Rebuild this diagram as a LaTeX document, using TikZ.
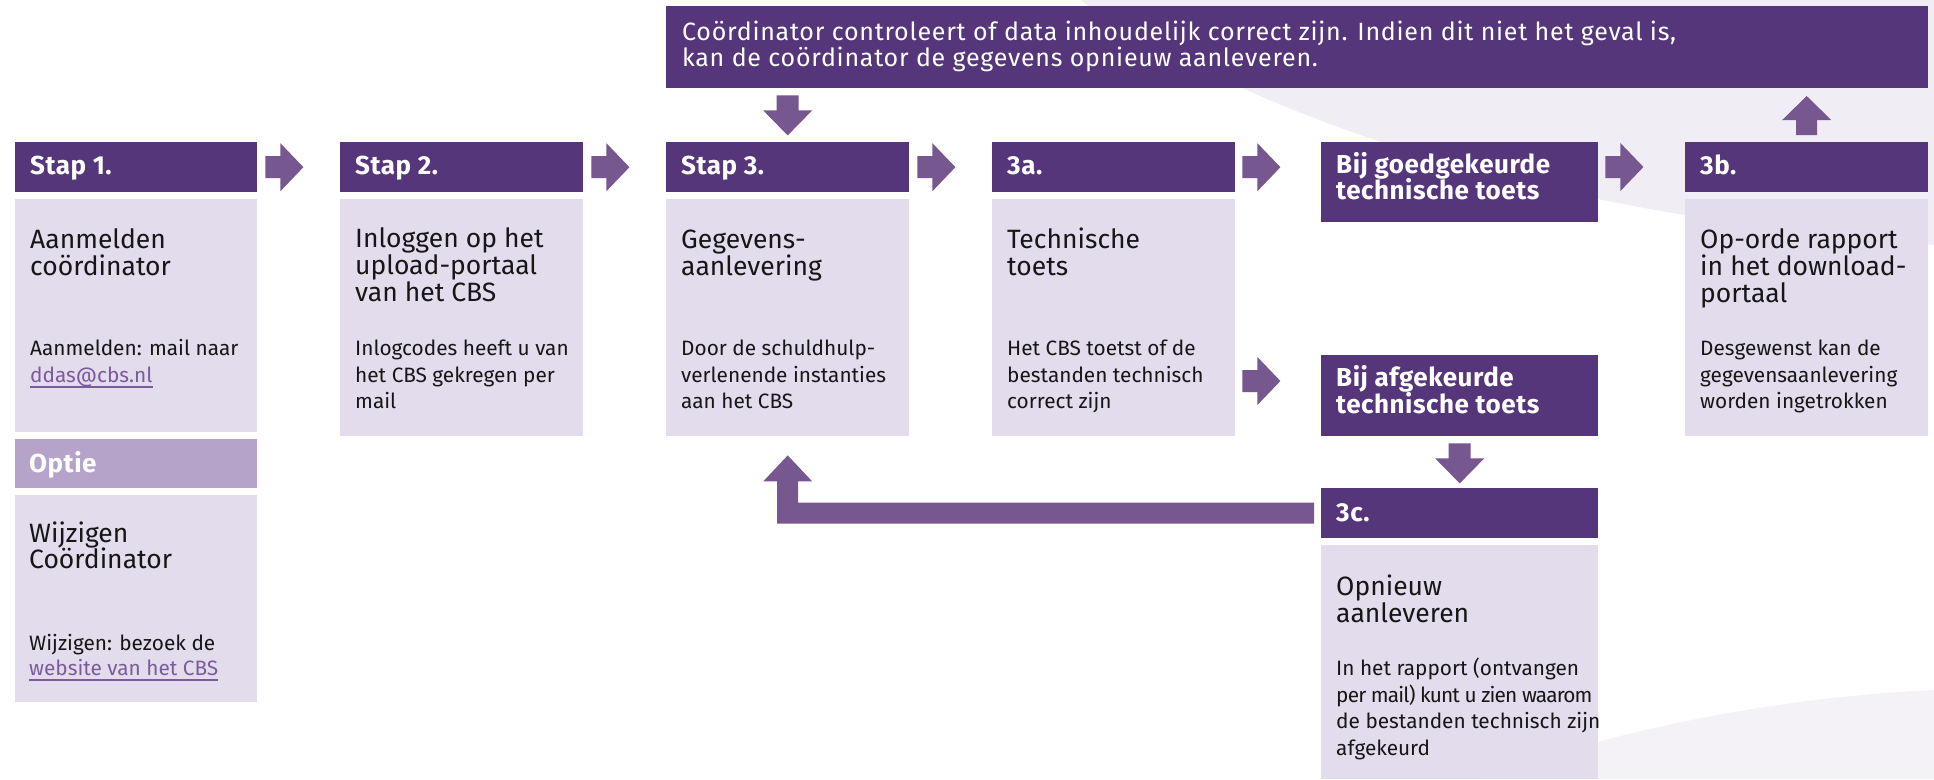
\documentclass[tikz,border=0pt]{standalone}
\usepackage{fontspec}
\setmainfont{Fira Sans}
\newfontfamily\hdrfont[LetterSpace=2]{Fira Sans}
\newfontfamily\bnrfont[LetterSpace=3]{Fira Sans}
\newfontfamily\tightfont[LetterSpace=-4]{Fira Sans}
\usetikzlibrary{calc}
\definecolor{hdr}{HTML}{56367A}
\definecolor{arrcol}{HTML}{76578F}
\definecolor{bod}{HTML}{E3DCEC}
\definecolor{optcol}{HTML}{B5A3C9}
\definecolor{lnk}{HTML}{7B5B9B}
\definecolor{swA}{HTML}{F0EDF4}
\definecolor{swB}{HTML}{F4F2F7}
\definecolor{txtcol}{HTML}{161616}
\tikzset{
  plainbox/.style={draw=none, inner sep=0pt, anchor=north west},
  hdrbox/.style={plainbox, fill=hdr},
  optbox/.style={plainbox, fill=optcol},
  bodybox/.style={plainbox, fill=bod},
  htxt/.style={anchor=base west, inner sep=0pt, text=white, font=\hdrfont\fontsize{26}{30}\selectfont\bfseries},
  ttl/.style={anchor=base west, inner sep=0pt, text=txtcol, font=\fontsize{26.5}{27}\selectfont},
  sml/.style={anchor=base west, inner sep=0pt, text=txtcol, font=\fontsize{20.8}{26}\selectfont},
  smltight/.style={sml, font=\tightfont\fontsize{20.8}{26}\selectfont},
  lnktxt/.style={anchor=base west, inner sep=0pt, text=lnk, font=\fontsize{20.8}{26}\selectfont},
  bnr/.style={anchor=base west, inner sep=0pt, text=white, font=\bnrfont\fontsize{25}{26}\selectfont},
  uline/.style={draw=lnk, line width=1.3pt},
  rarr/.pic={\fill[arrcol] (0,-11) -- (15,-11) -- (15,-24) -- (38,0) -- (15,24) -- (15,11) -- (0,11) -- cycle;},
  darr/.pic={\fill[arrcol] (-11,0) -- (11,0) -- (11,15) -- (24.5,15) -- (0,40) -- (-24.5,15) -- (-11,15) -- cycle;},
  uarr/.pic={\fill[arrcol] (-10.5,0) -- (10.5,0) -- (10.5,-15) -- (24.5,-15) -- (0,-39) -- (-24.5,-15) -- (-10.5,-15) -- cycle;}
}
\begin{document}
\begin{tikzpicture}[x=1pt,y=-1pt]
\useasboundingbox (0,0) rectangle (1934,779);
\fill[white] (0,0) rectangle (1934,779);
% background swooshes
\fill[swA] (1080,0) .. controls (1250,110) and (1500,210) .. (1934,245) -- (1934,0) -- cycle;
\fill[swB] (1480,779) .. controls (1600,735) and (1760,698) .. (1934,690) -- (1934,779) -- cycle;

% banner
\node[hdrbox, minimum width=1262pt, minimum height=82pt] (banner) at (666,6) {};
\node[bnr] (bn1) at (682,40) {Coördinator controleert of data inhoudelijk correct zijn. Indien dit niet het geval is,};
\node[bnr] (bn2) at (682,66) {kan de coördinator de gegevens opnieuw aanleveren.};

% headers
\node[hdrbox, minimum width=242pt, minimum height=50pt] (s1h) at (15,142) {};
\node[hdrbox, minimum width=243pt, minimum height=50pt] (s2h) at (340,142) {};
\node[hdrbox, minimum width=243pt, minimum height=50pt] (s3h) at (666,142) {};
\node[hdrbox, minimum width=243pt, minimum height=50pt] (s3ah) at (992,142) {};
\node[hdrbox, minimum width=277pt, minimum height=80pt] (goed) at (1321,142) {};
\node[hdrbox, minimum width=243pt, minimum height=50pt] (s3bh) at (1685,142) {};
\node[hdrbox, minimum width=277pt, minimum height=81pt] (afg) at (1321,355) {};
\node[hdrbox, minimum width=277pt, minimum height=50pt] (c3h) at (1321,488) {};
\node[optbox, minimum width=242pt, minimum height=49pt] (opth) at (15,439) {};

% bodies
\node[bodybox, minimum width=242pt, minimum height=233pt] (s1b) at (15,199) {};
\node[bodybox, minimum width=243pt, minimum height=237pt] (s2b) at (340,199) {};
\node[bodybox, minimum width=243pt, minimum height=237pt] (s3b) at (666,199) {};
\node[bodybox, minimum width=243pt, minimum height=237pt] (s3ab) at (992,199) {};
\node[bodybox, minimum width=243pt, minimum height=237pt] (s3bb) at (1685,199) {};
\node[bodybox, minimum width=242pt, minimum height=207pt] (optb) at (15,495) {};
\node[bodybox, minimum width=277pt, minimum height=234pt] (c3b) at (1321,545) {};

% header texts
\node[htxt] (s1ht) at (30,174) {Stap 1.};
\node[htxt] (s2ht) at (355,174) {Stap 2.};
\node[htxt] (s3ht) at (681,174) {Stap 3.};
\node[htxt] (s3aht) at (1007,174) {3a.};
\node[htxt] (goed1) at (1336,173) {Bij goedgekeurde};
\node[htxt] (goed2) at (1336,199) {technische toets};
\node[htxt] (s3bht) at (1700,174) {3b.};
\node[htxt] (afg1) at (1336,386) {Bij afgekeurde};
\node[htxt] (afg2) at (1336,413) {technische toets};
\node[htxt] (c3ht) at (1336,521) {3c.};
\node[htxt] (optht) at (29,472) {Optie};

% Stap 1
\node[ttl] (s1t1) at (30,248) {Aanmelden};
\node[ttl] (s1t2) at (30,275) {coördinator};
\node[sml] (s1s1) at (30,355) {Aanmelden: mail naar};
\node[lnktxt] (s1l) at (30,382) {ddas@cbs.nl};
\draw[uline] ($(s1l.base west)+(0,5)$) -- ($(s1l.base east)+(0,5)$);

% Stap 2
\node[ttl] (s2t1) at (355,247) {Inloggen op het};
\node[ttl] (s2t2) at (355,274) {upload-portaal};
\node[ttl] (s2t3) at (355,301) {van het CBS};
\node[sml] (s2s1) at (355,355) {Inlogcodes heeft u van};
\node[sml] (s2s2) at (355,382) {het CBS gekregen per};
\node[sml] (s2s3) at (355,408) {mail};

% Stap 3
\node[ttl] (s3t1) at (681,248) {Gegevens-};
\node[ttl] (s3t2) at (681,275) {aanlevering};
\node[sml] (s3s1) at (681,355) {Door de schuldhulp-};
\node[sml] (s3s2) at (681,382) {verlenende instanties};
\node[sml] (s3s3) at (681,408) {aan het CBS};

% 3a
\node[ttl] (s3at1) at (1007,248) {Technische};
\node[ttl] (s3at2) at (1007,275) {toets};
\node[sml] (s3as1) at (1007,355) {Het CBS toetst of de};
\node[sml] (s3as2) at (1007,382) {bestanden technisch};
\node[sml] (s3as3) at (1007,408) {correct zijn};

% 3b
\node[ttl] (s3bt1) at (1700,248) {Op-orde rapport};
\node[ttl] (s3bt2) at (1700,275) {in het download-};
\node[ttl] (s3bt3) at (1700,302) {portaal};
\node[sml] (s3bs1) at (1700,355) {Desgewenst kan de};
\node[sml] (s3bs2) at (1700,382) {gegevensaanlevering};
\node[sml] (s3bs3) at (1700,408) {worden ingetrokken};

% Optie
\node[ttl] (opt1) at (29,542) {Wijzigen};
\node[ttl] (opt2) at (29,568) {Coördinator};
\node[sml] (opts1) at (29,650) {Wijzigen: bezoek de};
\node[lnktxt] (optl) at (29,675) {website van het CBS};
\draw[uline] ($(optl.base west)+(0,5)$) -- ($(optl.base east)+(0,5)$);

% 3c
\node[ttl] (c3t1) at (1336,595) {Opnieuw};
\node[ttl] (c3t2) at (1336,622) {aanleveren};
\node[sml] (c3s1) at (1336,675) {In het rapport (ontvangen};
\node[smltight] (c3s2) at (1336,702) {per mail) kunt u zien waarom};
\node[sml] (c3s3) at (1336,728) {de bestanden technisch zijn};
\node[sml] (c3s4) at (1336,755) {afgekeurd};

% block arrows
\pic at ($(s1h.east)+(8,0)$) {rarr};
\pic at ($(s2h.east)+(8,0)$) {rarr};
\pic at ($(s3h.east)+(8,0)$) {rarr};
\pic at ($(s3ah.east)+(7,0)$) {rarr};
\pic at ($(s3ah.east |- afg.north)+(7,26)$) {rarr};
\pic at ($(goed.north east)+(7,25)$) {rarr};
\pic at ($(banner.south -| s3h.north)+(0,7)$) {darr};
\pic at ($(afg.south)+(0,7)$) {darr};
\pic at ($(s3bh.north)+(0,-7)$) {uarr};

% return arrow from 3c to Stap 3
\coordinate (rb) at ($(c3h.west)+(-7,0)$);
\fill[arrcol] ($(rb)+(0,-10.5)$) -- ($(s3b.south |- rb)+(10.5,-10.5)$) -- ($(s3b.south)+(10.5,45)$) -- ($(s3b.south)+(24.5,45)$) -- ($(s3b.south)+(0,19)$) -- ($(s3b.south)+(-24.5,45)$) -- ($(s3b.south)+(-10.5,45)$) -- ($(s3b.south |- rb)+(-10.5,10.5)$) -- ($(rb)+(0,10.5)$) -- cycle;
\end{tikzpicture}
\end{document}
